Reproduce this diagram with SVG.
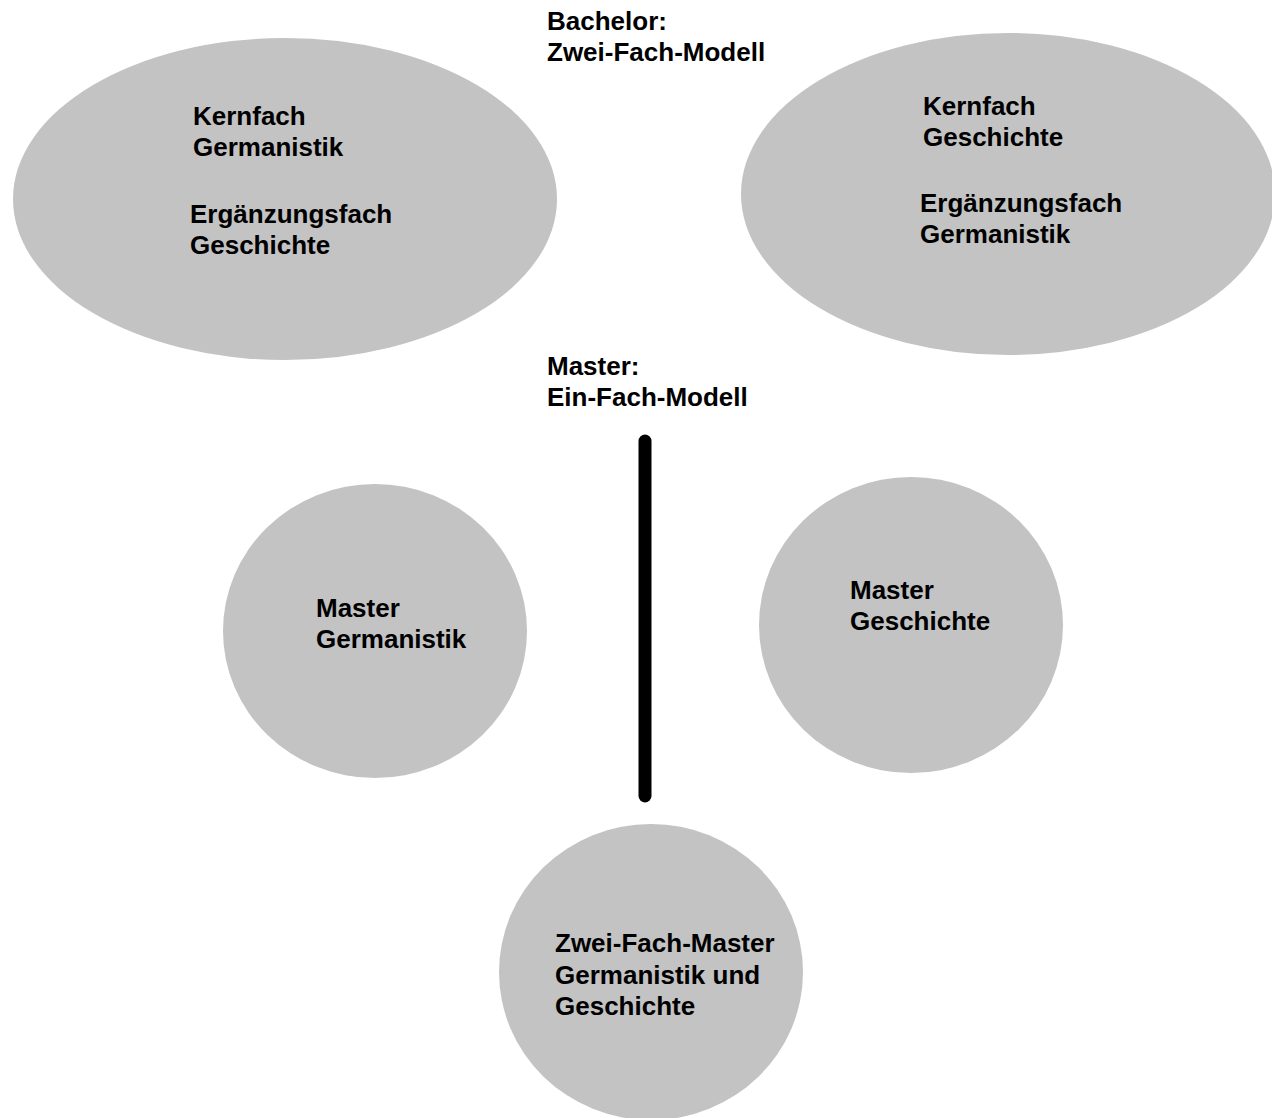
<svg xmlns="http://www.w3.org/2000/svg" width="1272" height="1118" viewBox="0 0 1272 1118">
<style>
.node{fill:#c3c3c3;}
text{font-family:"Liberation Sans",Arial,sans-serif;font-weight:bold;font-size:26px;fill:#000;}
.conn{stroke:#000;stroke-width:13;stroke-linecap:round;fill:none;}
</style>
<rect width="1272" height="1118" fill="#fff"/>
<g id="title-bachelor">
<text x="547" y="30">Bachelor:</text>
<text x="547" y="61">Zwei-Fach-Modell</text>
</g>
<g id="bachelor-germanistik">
<ellipse class="node" cx="285" cy="199" rx="272" ry="161"/>
<text x="193" y="125">Kernfach</text>
<text x="193" y="156">Germanistik</text>
<text x="190" y="223">Ergänzungsfach</text>
<text x="190" y="254">Geschichte</text>
</g>
<g id="bachelor-geschichte">
<ellipse class="node" cx="1008" cy="194" rx="267" ry="161"/>
<text x="923" y="115">Kernfach</text>
<text x="923" y="146">Geschichte</text>
<text x="920" y="212">Ergänzungsfach</text>
<text x="920" y="243">Germanistik</text>
</g>
<g id="title-master">
<text x="547" y="375">Master:</text>
<text x="547" y="406">Ein-Fach-Modell</text>
</g>
<g id="master-germanistik">
<ellipse class="node" cx="375" cy="631" rx="152" ry="147"/>
<text x="316" y="617">Master</text>
<text x="316" y="648">Germanistik</text>
</g>
<g id="master-geschichte">
<ellipse class="node" cx="911" cy="625" rx="152" ry="148"/>
<text x="850" y="599">Master</text>
<text x="850" y="630">Geschichte</text>
</g>
<g id="zwei-fach-master">
<ellipse class="node" cx="651" cy="972" rx="152" ry="148"/>
<text x="555" y="952">Zwei-Fach-Master</text>
<text x="555" y="984">Germanistik und</text>
<text x="555" y="1015">Geschichte</text>
</g>
<g id="connectors">
<line class="conn" x1="645" y1="441" x2="645" y2="796"/>
</g>
</svg>
